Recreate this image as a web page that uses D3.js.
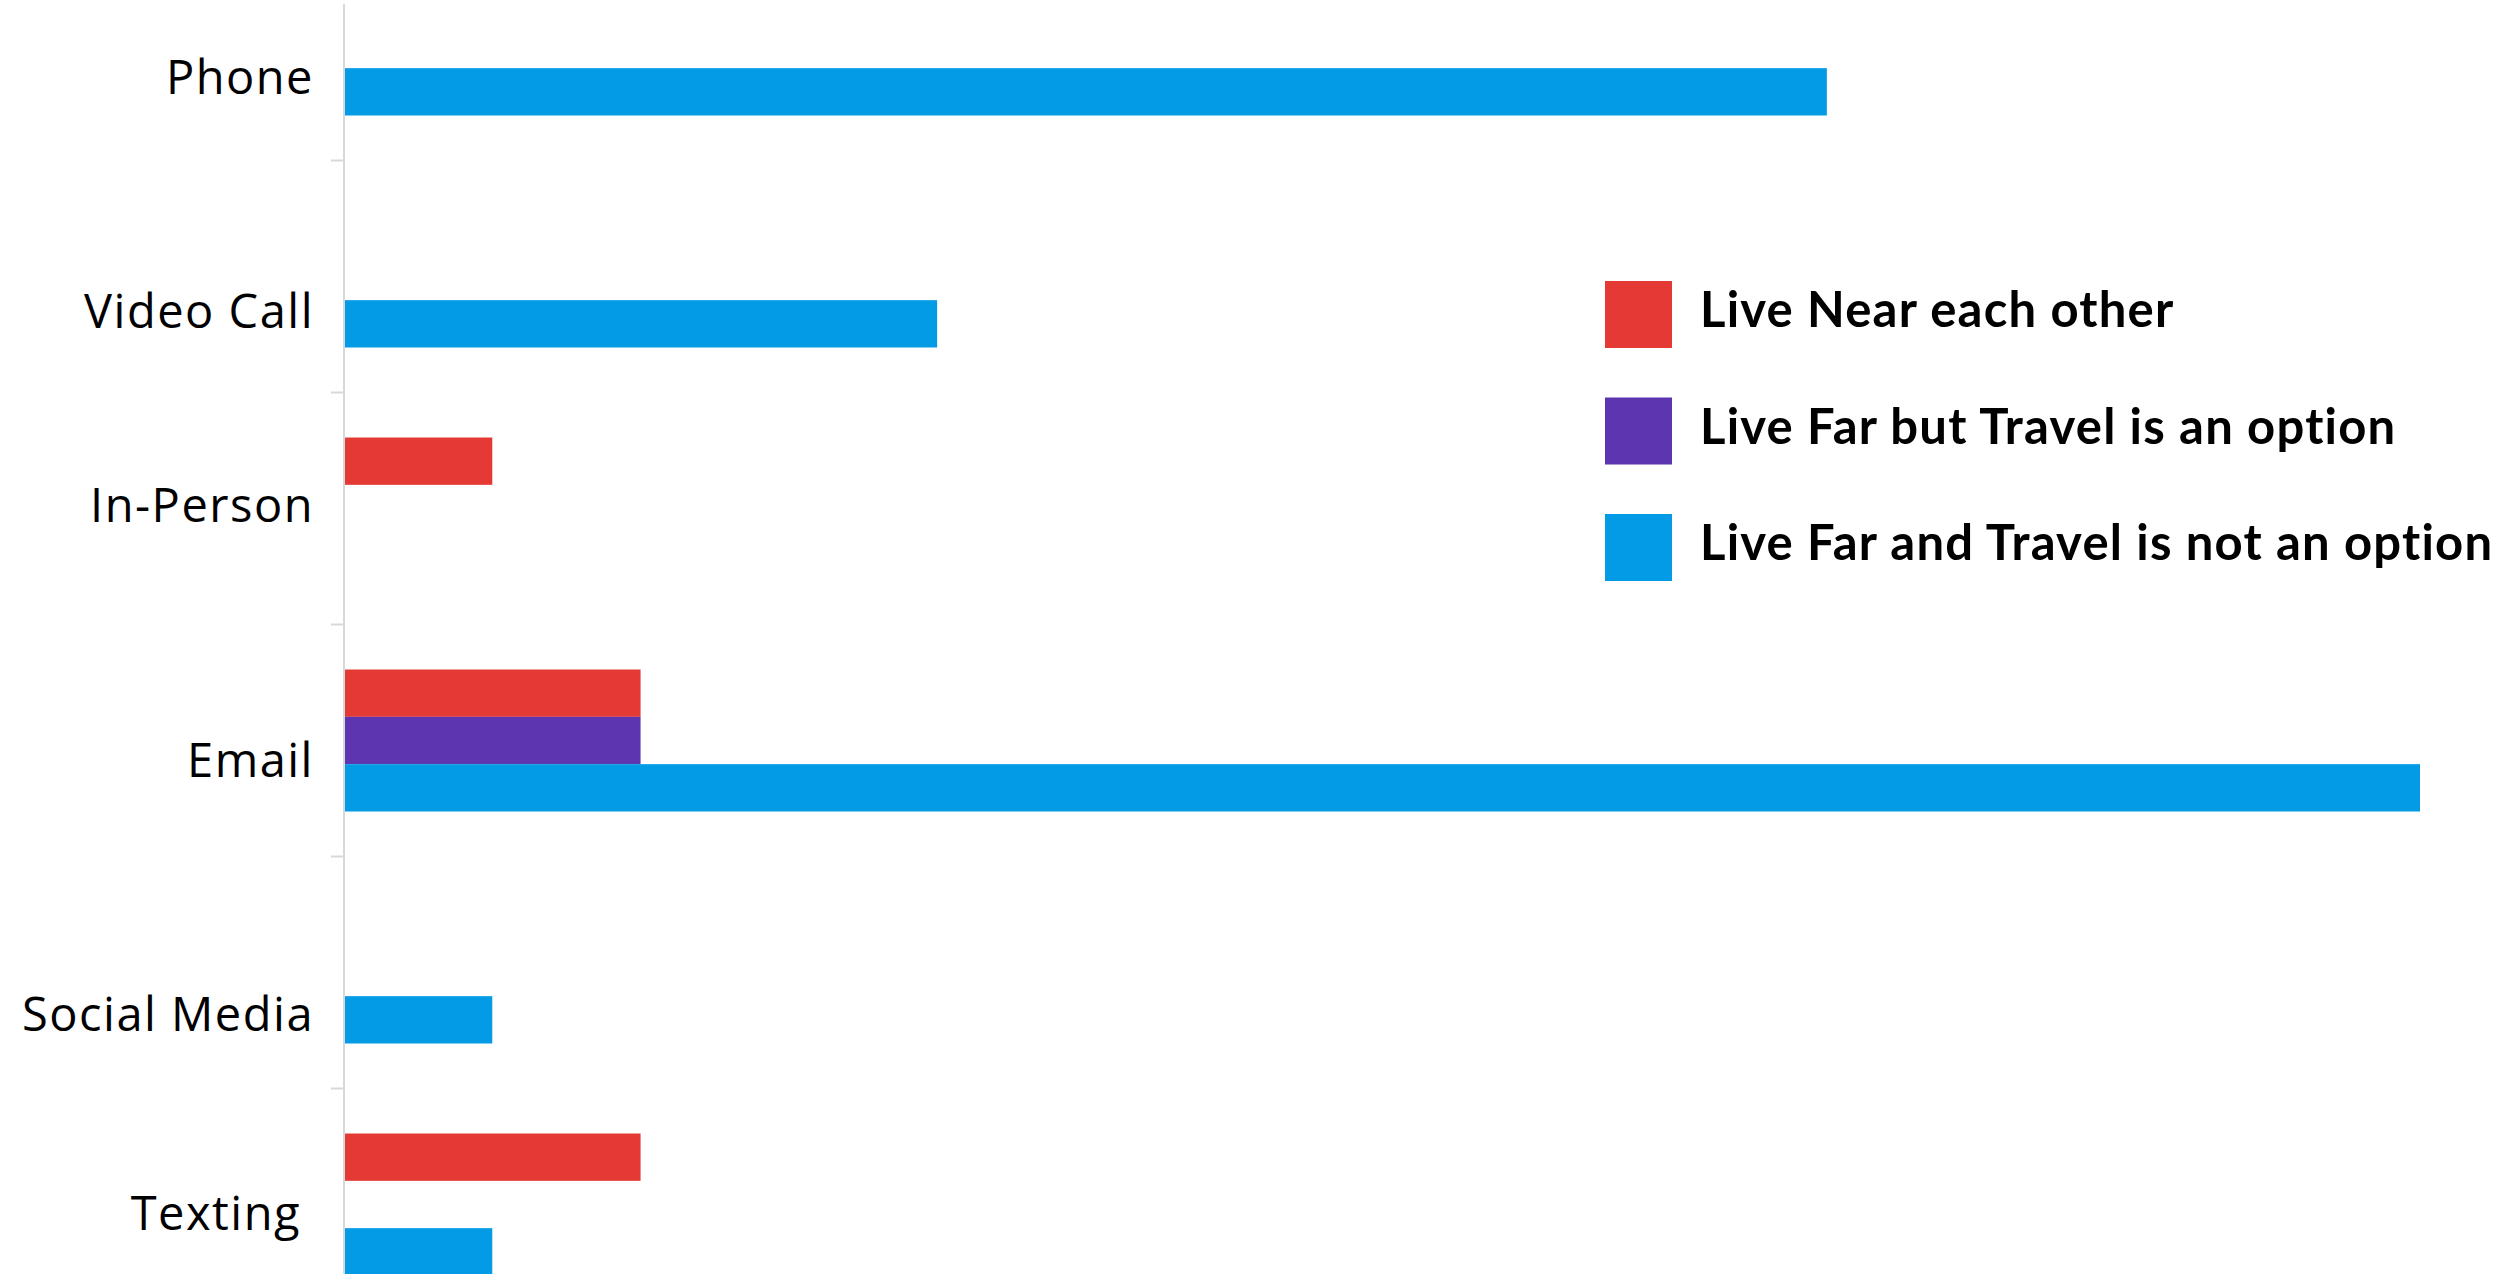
<!DOCTYPE html>
<html>
<head>
<meta charset="utf-8">
<script src="https://cdn.jsdelivr.net/npm/d3@7"></script>
<style>
  html, body { margin: 0; padding: 0; background: #ffffff; }
  svg { display: block; }
  text { font-variant-ligatures: none; }
</style>
</head>
<body>
<svg id="chart" width="2509" height="1274"></svg>
<script>
// Communication methods, by how far apart people live
const categories = ["Phone", "Video Call", "In-Person", "Email", "Social Media", "Texting"];
const seriesNames = [
  "Live Near each other",
  "Live Far but Travel is an option",
  "Live Far and Travel is not an option"
];
const liveNear    = [0, 0, 1, 2, 0, 2];
const farTravel   = [0, 0, 0, 2, 0, 0];
const farNoTravel = [10, 4, 0, 14, 1, 1];
const seriesValues = [liveNear, farTravel, farNoTravel];

const colors = ["#E53935", "#5E35B1", "#039BE5"];

const svg = d3.select("#chart");
const W = 2509, H = 1274;
const axisX = 344;

const x = d3.scaleLinear().domain([0, 14]).range([axisX, 2420]);
const y = d3.scaleBand()
  .domain(categories)
  .range([-71.5, 1320.5])
  .paddingInner(0.388)
  .paddingOuter(0.194);
const inner = d3.scaleBand()
  .domain(d3.range(seriesNames.length))
  .range([0, y.bandwidth()]);

// bars
const rows = [];
categories.forEach((c, i) => {
  seriesValues.forEach((vals, s) => {
    if (vals[i] > 0) rows.push({ cat: c, s, v: vals[i] });
  });
});
svg.append("g").selectAll("rect")
  .data(rows)
  .join("rect")
  .attr("x", x(0))
  .attr("y", d => y(d.cat) + inner(d.s))
  .attr("width", d => x(d.v) - x(0))
  .attr("height", inner.bandwidth())
  .attr("fill", d => colors[d.s]);

// category axis: vertical rule plus separators between groups
const axisG = svg.append("g");
axisG.append("line")
  .attr("x1", axisX).attr("x2", axisX)
  .attr("y1", 4).attr("y2", H)
  .attr("stroke", "#d6d8da").attr("stroke-width", 2);
const gap = (y.step() - y.bandwidth()) / 2;
axisG.selectAll("line.sep")
  .data(categories.slice(1))
  .join("line")
  .attr("class", "sep")
  .attr("x1", axisX - 13).attr("x2", axisX)
  .attr("y1", d => y(d) - gap).attr("y2", d => y(d) - gap)
  .attr("stroke", "#d6d8da").attr("stroke-width", 2);

// category labels (hand-placed baselines relative to each group centre)
const labelDy = [49.5, 51.5, 13.5, 36.5, 58.5, 25.5];
const labelDx = [0, 0, 0, 0, 0, -13];
svg.append("g").selectAll("text")
  .data(categories)
  .join("text")
  .attr("x", (d, i) => axisX - 30 + labelDx[i])
  .attr("y", (d, i) => y(d) + y.bandwidth() / 2 + labelDy[i])
  .attr("text-anchor", "end")
  .attr("font-family", "'Open Sans', Lato, sans-serif")
  .attr("font-size", 47)
  .attr("letter-spacing", 1.5)
  .attr("fill", "#000")
  .text(d => d);

// legend
const legend = svg.append("g").attr("transform", "translate(1605,281)");
const legendStep = 116.5;
const item = legend.selectAll("g")
  .data(seriesNames)
  .join("g")
  .attr("transform", (d, i) => `translate(0,${i * legendStep})`);
item.append("rect")
  .attr("width", 67).attr("height", 67)
  .attr("fill", (d, i) => colors[i]);
item.append("text")
  .attr("x", 95)
  .attr("y", 46)
  .attr("font-family", "Lato, 'Open Sans', sans-serif")
  .attr("font-weight", 700)
  .attr("font-size", 49)
  .attr("letter-spacing", 1.2)
  .attr("fill", "#000")
  .text(d => d);
</script>
</body>
</html>
